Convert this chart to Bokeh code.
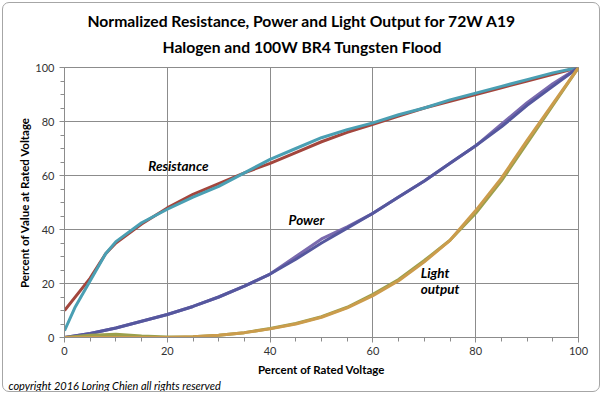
from bokeh.plotting import figure
from bokeh.models import Title, Label, Range1d, SingleIntervalTicker, InlineStyleSheet
from bokeh.embed import file_html
from bokeh.resources import INLINE

# ---- data (percent of rated voltage vs percent of value at rated voltage) ----
res_a_x = [0, 5, 8, 10, 15, 20, 25, 30, 35, 40, 45, 50, 55, 60, 65, 70, 75, 80, 85, 90, 95, 100]
res_a_y = [10, 22, 31, 35, 42, 48, 53, 57, 61, 64.5, 68.5, 72.5, 76, 79, 82, 85, 87.5, 90, 92.5, 95, 97.5, 100]

res_b_x = [0, 2, 5, 8, 10, 15, 20, 25, 30, 35, 40, 45, 50, 55, 60, 65, 70, 75, 80, 85, 90, 95, 100]
res_b_y = [2.5, 11, 21, 31, 35.5, 42.5, 47.5, 52, 56, 61, 66, 70, 74, 77, 79.5, 82.5, 85, 88, 90.5, 93, 95.5, 98, 100]

pow_x = [0, 5, 10, 15, 20, 25, 30, 35, 40, 45, 50, 55, 60, 65, 70, 75, 80, 85, 90, 95, 100]
pow_a_y = [0, 1.5, 3.5, 6, 8.5, 11.5, 15, 19, 23.5, 29, 35, 40.5, 46, 52, 58, 64.5, 71, 78, 86, 93, 100]
pow_b_y = [0, 1.5, 3.5, 6, 8.5, 11.5, 15, 19, 23.5, 30, 36.5, 41, 46, 52, 58, 64.5, 71, 79, 87, 94, 100]

light_x = [0, 5, 10, 15, 20, 25, 30, 35, 40, 45, 50, 55, 60, 65, 70, 75, 80, 85, 90, 95, 100]
light_a_y = [0, 0, 0, 0, 0, 0.3, 0.8, 1.8, 3.2, 5, 7.5, 11, 15.5, 21, 28, 36, 47, 59, 73, 86.5, 100]
light_b_y = [0, 0.8, 1.2, 0.6, 0.2, 0.3, 0.8, 1.8, 3.3, 5.2, 7.7, 11.2, 16, 21.5, 28.5, 36, 46, 58, 72, 86, 100]

title_lines = ["Normalized Resistance, Power and Light Output for 72W A19",
               "Halogen and 100W BR4 Tungsten Flood"]
x_label = "Percent of Rated Voltage"
y_label = "Percent of Value at Rated Voltage"
copyright_text = "copyright  2016 Loring Chien all rights reserved"

FONT = "Lato"
GRID = "#8C8C8C"

p = figure(width=602, height=394, output_backend="svg", toolbar_location=None,
           x_range=Range1d(0, 100), y_range=Range1d(0, 100),
           min_border_left=64, min_border_right=24, min_border_top=67, min_border_bottom=57,
           background_fill_color="white", border_fill_color="white")
p.stylesheets = [InlineStyleSheet(css=(
    ":host { position: relative; }"
    ":host::after { content: ''; position: absolute; left: 2px; top: 2px; right: 2px; bottom: 2px;"
    " border: 1px solid #A6A6A6; border-radius: 7px; pointer-events: none; z-index: 100; }"))]

p.outline_line_color = GRID

t2 = Title(text=title_lines[1], align="left", text_font=FONT, text_font_size="15.7px",
           text_font_style="bold", text_color="black", offset=98, standoff=23)
t1 = Title(text=title_lines[0], align="left", text_font=FONT, text_font_size="15.7px",
           text_font_style="bold", text_color="black", offset=23, standoff=-10)
p.add_layout(t2, "above")
p.add_layout(t1, "above")

cp = Title(text=copyright_text, align="left", text_font=FONT, text_font_size="11px",
           text_font_style="italic", text_color="black", offset=-56, standoff=-3)
p.add_layout(cp, "below")

for ax in (p.xaxis[0], p.yaxis[0]):
    ax.ticker = SingleIntervalTicker(interval=20, num_minor_ticks=4)
    ax.axis_line_color = GRID
    ax.major_tick_line_color = GRID
    ax.minor_tick_line_color = GRID
    ax.major_tick_out = 5
    ax.major_tick_in = 0
    ax.minor_tick_out = 4
    ax.minor_tick_in = 0
    ax.major_label_text_font = FONT
    ax.major_label_text_font_size = "11px"
    ax.major_label_text_color = "#333333"
    ax.axis_label_text_font = FONT
    ax.axis_label_text_font_size = "11.5px"
    ax.axis_label_text_font_style = "bold"
    ax.axis_label_text_color = "black"

p.xaxis.axis_label = x_label
p.yaxis.axis_label = y_label
p.xaxis.major_label_standoff = 4
p.xaxis.axis_label_standoff = 5
p.yaxis.major_label_standoff = 5
p.yaxis.axis_label_standoff = 1

p.xgrid.grid_line_color = GRID
p.ygrid.grid_line_color = GRID
p.xgrid.ticker = SingleIntervalTicker(interval=20)
p.ygrid.ticker = SingleIntervalTicker(interval=20)

p.line(res_a_x, res_a_y, line_width=3, line_color="#A3463D")
p.line(res_b_x, res_b_y, line_width=3, line_color="#4A9FB3")
p.line(pow_x, pow_b_y, line_width=3, line_color="#7A6AAE")
p.line(pow_x, pow_a_y, line_width=3, line_color="#55579E")
p.line(light_x, light_b_y, line_width=3, line_color="#9BA04C")
p.line(light_x, light_a_y, line_width=3, line_color="#CB9C4C")

def note(x, y, txt):
    p.add_layout(Label(x=x, y=y, text=txt, text_font=FONT, text_font_size="13.5px",
                       text_font_style="bold italic", text_color="black",
                       text_align="left", text_baseline="middle"))

note(16.3, 63.7, "Resistance")
note(43.6, 43.7, "Power")
note(69.3, 24.0, "Light")
note(69.3, 17.8, "output")

open("out.html", "w").write(file_html(p, INLINE))
